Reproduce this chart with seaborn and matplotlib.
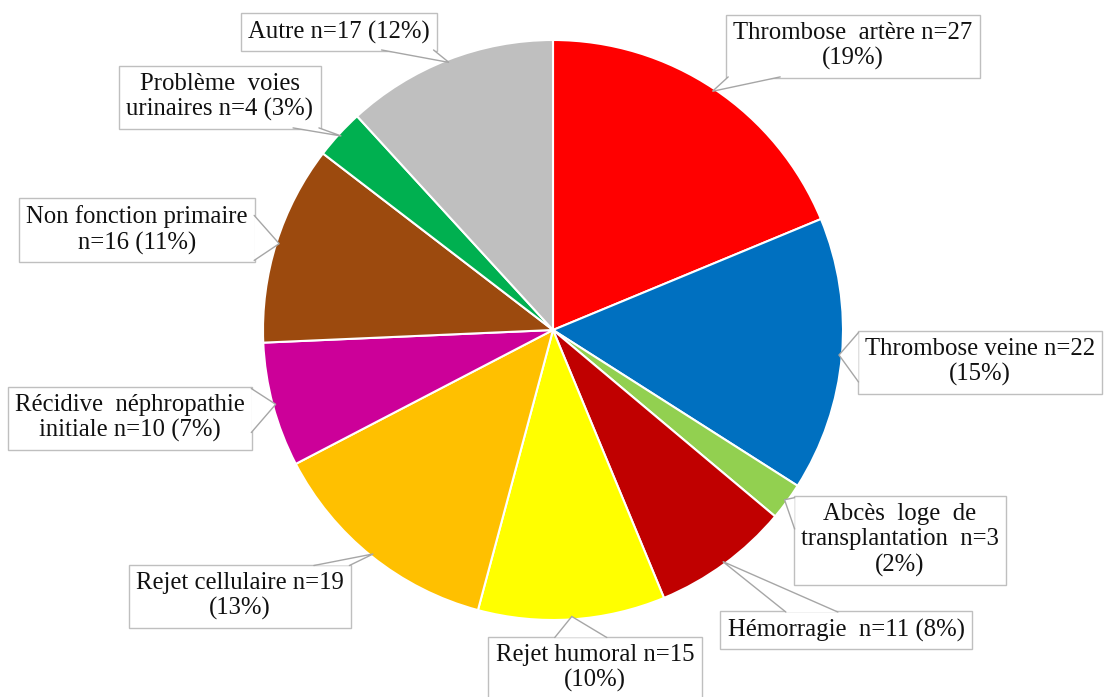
import numpy as np
import matplotlib
matplotlib.use("Agg")
import matplotlib.pyplot as plt
import seaborn as sns
from matplotlib.patches import Polygon

# Causes de perte du greffon
labels = [
    "Thrombose  artère n=27\n(19%)",
    "Thrombose veine n=22\n(15%)",
    "Abcès  loge  de\ntransplantation  n=3\n(2%)",
    "Hémorragie  n=11 (8%)",
    "Rejet humoral n=15\n(10%)",
    "Rejet cellulaire n=19\n(13%)",
    "Récidive  néphropathie\ninitiale n=10 (7%)",
    "Non fonction primaire\nn=16 (11%)",
    "Problème  voies\nurinaires n=4 (3%)",
    "Autre n=17 (12%)",
]
counts = [27, 22, 3, 11, 15, 19, 10, 16, 4, 17]
colors = ["#FF0000", "#0070C0", "#92D050", "#C00000", "#FFFF00",
          "#FFC000", "#CC0099", "#9C4A0E", "#00B050", "#BFBFBF"]

# label box centres in pixels (top-left origin)
label_pos = [(853, 46), (980, 362), (900, 540), (846, 630), (595, 668),
             (240, 596), (130, 418), (137, 230), (220, 97), (339, 32)]

W, H = 1112, 697
cx, cy, R = 553, H - 330, 290

sns.set_theme(style="white")
plt.rcParams["font.family"] = ["Liberation Serif", "DejaVu Serif"]

fig = plt.figure(figsize=(W / 100, H / 100), dpi=100)
ax = fig.add_axes([0, 0, 1, 1])

wedges, _ = ax.pie(counts, colors=colors, startangle=90, counterclock=False,
                   center=(cx, cy), radius=R,
                   wedgeprops=dict(edgecolor="white", linewidth=1.5))
ax.set_xlim(0, W)
ax.set_ylim(0, H)
ax.axis("off")

texts = []
for txt, (lx, ly) in zip(labels, label_pos):
    t = ax.text(lx, H - ly, txt, ha="center", va="center", zorder=3,
                fontsize=17.8, color="#111111", linespacing=1.22,
                bbox=dict(boxstyle="square,pad=0.3", fc="white", ec="#BFBFBF", lw=1))
    texts.append(t)

# callout wedges from box edge to slice
fig.canvas.draw()
inv = ax.transData.inverted()
for w, t in zip(wedges, texts):
    ang = np.deg2rad((w.theta1 + w.theta2) / 2)
    ax_pt = np.array([cx + R * 0.99 * np.cos(ang), cy + R * 0.99 * np.sin(ang)])
    bb = t.get_bbox_patch().get_window_extent()
    (x0, y0), (x1, y1) = inv.transform([[bb.x0, bb.y0], [bb.x1, bb.y1]])
    c = np.array([(x0 + x1) / 2, (y0 + y1) / 2])
    d = ax_pt - c
    hw, hh = (x1 - x0) / 2, (y1 - y0) / 2
    tx = hw / abs(d[0]) if d[0] != 0 else np.inf
    ty = hh / abs(d[1]) if d[1] != 0 else np.inf
    half = 26
    if tx < ty:
        ex = x0 + 1 if d[0] < 0 else x1 - 1
        py = c[1] + tx * d[1]
        a = np.clip(py - half, y0 + 2, y1 - 2)
        b = np.clip(py + half, y0 + 2, y1 - 2)
        p1, p2 = (ex, a), (ex, b)
    else:
        ey = y0 + 1 if d[1] < 0 else y1 - 1
        px = c[0] + ty * d[0]
        a = np.clip(px - half, x0 + 2, x1 - 2)
        b = np.clip(px + half, x0 + 2, x1 - 2)
        p1, p2 = (a, ey), (b, ey)
    ax.add_patch(Polygon([p1, ax_pt, p2], closed=True, fc="white", ec="none", zorder=4))
    ax.plot([p1[0], ax_pt[0], p2[0]], [p1[1], ax_pt[1], p2[1]],
            color="#A6A6A6", lw=1, zorder=4, solid_joinstyle="miter")

fig.savefig("out.png", dpi=100)
